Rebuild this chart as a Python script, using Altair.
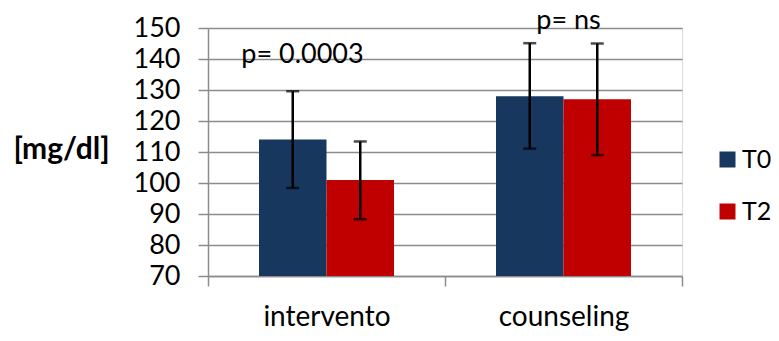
import altair as alt
import pandas as pd

categories = ["intervento", "intervento", "counseling", "counseling"]
series = ["T0", "T2", "T0", "T2"]
means = [114, 101, 128, 127]
err_low = [98.4, 88.3, 111.1, 109.0]
err_high = [129.6, 113.4, 145.1, 145.0]
y_ticks = [70, 80, 90, 100, 110, 120, 130, 140, 150]

annot_text = ["p= 0.0003", "p= ns"]
annot_cat = ["intervento", "counseling"]
annot_y = [138.6, 149.8]

FONT = "Lato"
GRID = "#8C8C8C"

df = pd.DataFrame({"cat": categories, "serie": series, "mean": means,
                   "lo": err_low, "hi": err_high})

cat_order = ["intervento", "counseling"]
x_axis = alt.Axis(title=None, grid=False, domainColor=GRID, domainWidth=1.5,
                  tickColor=GRID, tickWidth=1.5, tickSize=10, tickBand="extent",
                  labelPadding=39, labelBaseline="alphabetic", labelAngle=0,
                  labelFont=FONT, labelFontSize=28, labelColor="#000000")
x_enc = alt.X("cat:N", sort=cat_order,
              scale=alt.Scale(paddingInner=0, paddingOuter=0), axis=x_axis)
xoff = alt.XOffset("serie:N", sort=["T0", "T2"],
                   scale=alt.Scale(paddingInner=0, paddingOuter=0.7556))
y_scale = alt.Scale(domain=[70, 150], nice=False, zero=False)
y_axis = alt.Axis(values=y_ticks, title="[mg/dl]",
                  titleAngle=0, titleAlign="center", titleBaseline="middle",
                  titleX=-147, titleY=121, titleFont=FONT, titleFontSize=30,
                  titleFontWeight="bold", titleColor="#000000",
                  grid=True, gridColor=GRID, gridWidth=1.5,
                  domainColor=GRID, domainWidth=1.5,
                  tickColor=GRID, tickWidth=1.5, tickSize=10,
                  labelOverlap=False, labelBound=False,
                  labelPadding=18, labelFont=FONT, labelFontSize=27,
                  labelColor="#000000")

bars = alt.Chart(df).mark_bar(clip=True).encode(
    x=x_enc,
    xOffset=xoff,
    y=alt.Y("mean:Q", scale=y_scale, axis=y_axis),
    color=alt.Color("serie:N", sort=["T0", "T2"],
                    scale=alt.Scale(domain=["T0", "T2"], range=["#17375E", "#C00000"]),
                    legend=alt.Legend(title=None, orient="none", legendX=507, legendY=119,
                                      symbolType="square", symbolSize=256,
                                      symbolStrokeWidth=0, labelOffset=2, rowPadding=26,
                                      padding=0, labelFont=FONT, labelFontSize=25,
                                      labelColor="#000000")),
)

rules = alt.Chart(df).mark_rule(color="black", strokeWidth=2.5).encode(
    x=x_enc, xOffset=xoff,
    y=alt.Y("lo:Q", scale=y_scale, axis=y_axis), y2="hi:Q")

caps_lo = alt.Chart(df).mark_tick(color="black", thickness=2.5, size=13).encode(
    x=x_enc, xOffset=xoff, y=alt.Y("lo:Q", scale=y_scale, axis=y_axis))
caps_hi = alt.Chart(df).mark_tick(color="black", thickness=2.5, size=13).encode(
    x=x_enc, xOffset=xoff, y=alt.Y("hi:Q", scale=y_scale, axis=y_axis))

def annot(i, dx):
    d = pd.DataFrame({"cat": [annot_cat[i]], "y": [annot_y[i]], "t": [annot_text[i]]})
    return alt.Chart(d).mark_text(font=FONT, fontSize=27, color="black", dx=dx,
                                  baseline="alphabetic", align="center").encode(
        x=x_enc, y=alt.Y("y:Q", scale=y_scale, axis=y_axis), text="t:N")

chart = alt.layer(bars, rules, caps_lo, caps_hi, annot(0, -24), annot(1, 5)).properties(
    width=474, height=248,
    autosize=alt.AutoSizeParams(type="none"),
    padding={"left": 200, "top": 20, "right": 89, "bottom": 57},
).configure_view(stroke=None).configure(background="white")

chart.save("out.html", embed_options={"renderer": "svg", "actions": False})
